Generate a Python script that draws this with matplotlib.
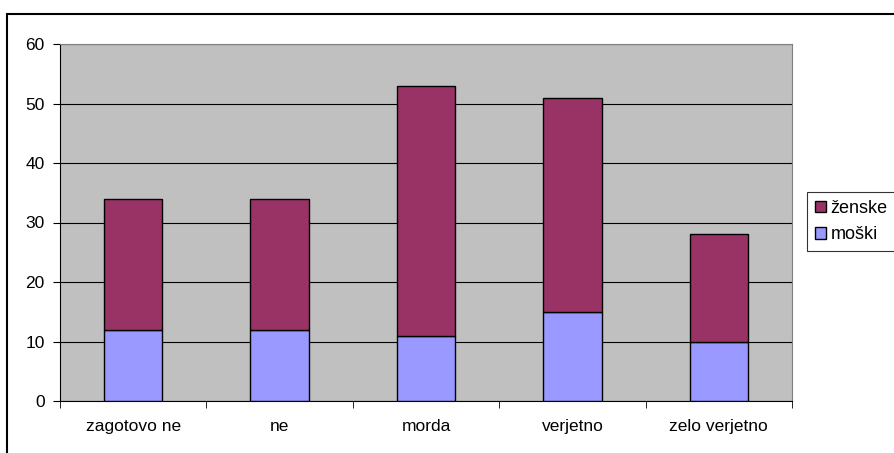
import matplotlib.pyplot as plt
import numpy as np

categories = ["zagotovo ne", "ne", "morda", "verjetno", "zelo verjetno"]
moski = [12, 12, 11, 15, 10]
zenske = [22, 22, 42, 36, 18]

plt.rcParams['font.family'] = ['Liberation Sans', 'DejaVu Sans']
plt.rcParams['font.size'] = 12.5

fig = plt.figure(figsize=(8.94, 4.53), dpi=100)
ax = fig.add_axes([60 / 894, 1 - 401 / 453, 732 / 894, 357 / 453])

x = np.arange(len(categories))
w = 0.4
ax.bar(x, moski, width=w, color="#9999FF", edgecolor="black", linewidth=1, label="moški", zorder=3)
ax.bar(x, zenske, width=w, bottom=moski, color="#993366", edgecolor="black", linewidth=1, label="ženske", zorder=3)

ax.set_facecolor("#C0C0C0")
ax.set_xlim(-0.5, len(categories) - 0.5)
ax.set_ylim(0, 60)
ax.set_yticks(range(0, 61, 10))
ax.yaxis.grid(True, color="black", linewidth=0.8, zorder=1)
ax.set_axisbelow(True)

# category labels centered, ticks between categories
ax.set_xticks(x)
ax.set_xticklabels(categories)
ax.tick_params(axis="x", length=0, pad=13)
ax.set_xticks(np.arange(-0.5, len(categories)), minor=True)
ax.tick_params(axis="x", which="minor", length=5, direction="out", color="black")
ax.tick_params(axis="y", length=5, direction="out", pad=6)

for side in ["top", "right"]:
    ax.spines[side].set_color("#808080")
ax.spines["left"].set_color("black")
ax.spines["bottom"].set_color("black")

handles, labels = ax.get_legend_handles_labels()
leg = fig.legend(handles[::-1], labels[::-1], loc="upper left",
                 bbox_to_anchor=(807 / 894, 1 - 192 / 453),
                 frameon=True, fancybox=False, edgecolor="black",
                 handlelength=0.6, handleheight=0.6, handletextpad=0.25,
                 borderpad=0.45, labelspacing=0.5, fontsize=13,
                 borderaxespad=0)
leg.get_frame().set_linewidth(0.8)

# outer chart border
fig.add_artist(plt.Rectangle((7 / 894, -0.05), 1.0, 1 - 14 / 453 + 0.05,
                             transform=fig.transFigure, fill=False,
                             edgecolor="black", linewidth=1.5))

plt.savefig("out.png", dpi=100)
